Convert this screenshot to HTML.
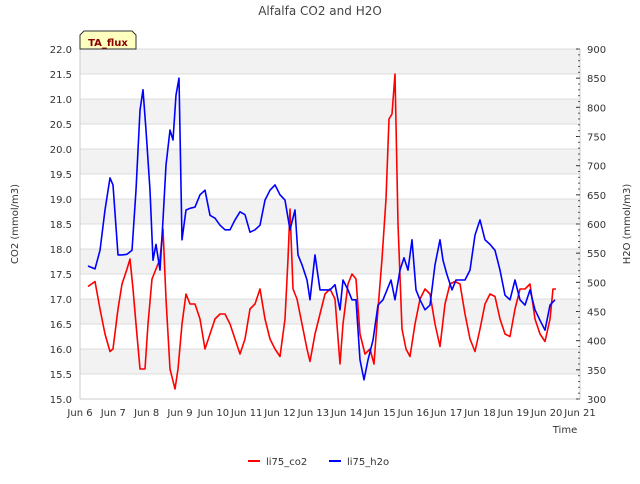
<!DOCTYPE html>
<html><head><meta charset="utf-8"><style>
body{margin:0;background:#fff;font-family:"DejaVu Sans","Liberation Sans",sans-serif}
</style></head><body>
<svg id="c" width="640" height="480" xmlns="http://www.w3.org/2000/svg" font-family="DejaVu Sans, Liberation Sans, sans-serif"></svg>
<script>
const co2T=[6.24,6.45,6.6,6.75,6.9,6.99,7.14,7.26,7.41,7.5,7.59,7.68,7.8,7.95,8.04,8.16,8.28,8.4,8.49,8.58,8.7,8.85,8.94,9.06,9.18,9.3,9.45,9.6,9.75,9.9,10.05,10.2,10.35,10.5,10.65,10.8,10.95,11.1,11.25,11.4,11.55,11.7,11.85,12.0,12.15,12.24,12.3,12.39,12.51,12.66,12.81,12.9,13.05,13.2,13.35,13.5,13.65,13.8,13.89,14.04,14.16,14.28,14.4,14.55,14.7,14.82,14.94,15.06,15.18,15.27,15.36,15.45,15.54,15.66,15.78,15.9,16.05,16.2,16.35,16.5,16.65,16.8,16.95,17.1,17.25,17.4,17.55,17.7,17.85,18.0,18.15,18.3,18.45,18.6,18.75,18.9,19.05,19.2,19.35,19.5,19.65,19.8,19.95,20.1,20.19,20.28];
const co2V=[17.25,17.35,16.8,16.3,15.95,16.0,16.8,17.3,17.6,17.8,17.2,16.5,15.6,15.6,16.5,17.4,17.6,17.8,18.4,17.0,15.6,15.2,15.6,16.5,17.1,16.9,16.9,16.6,16.0,16.3,16.6,16.7,16.7,16.5,16.2,15.9,16.2,16.8,16.9,17.2,16.6,16.2,16.0,15.85,16.6,17.8,18.8,17.2,17.0,16.5,16.0,15.75,16.3,16.7,17.1,17.2,17.0,15.7,16.5,17.3,17.5,17.4,16.3,15.9,16.0,15.7,16.8,17.8,19.0,20.6,20.7,21.5,18.5,16.4,16.0,15.85,16.5,17.0,17.2,17.1,16.5,16.05,16.9,17.3,17.35,17.3,16.7,16.2,15.95,16.4,16.9,17.1,17.05,16.6,16.3,16.25,16.8,17.2,17.2,17.3,16.6,16.3,16.15,16.6,17.2,17.2];
const h2oT=[6.24,6.45,6.6,6.75,6.9,6.99,7.14,7.26,7.41,7.56,7.68,7.8,7.89,7.98,8.1,8.19,8.28,8.4,8.49,8.58,8.7,8.79,8.88,8.97,9.06,9.18,9.3,9.45,9.6,9.75,9.9,10.05,10.2,10.35,10.5,10.65,10.8,10.95,11.1,11.25,11.4,11.55,11.7,11.85,12.0,12.15,12.3,12.45,12.54,12.66,12.81,12.9,13.05,13.2,13.35,13.5,13.65,13.8,13.89,14.04,14.16,14.28,14.4,14.52,14.64,14.79,14.94,15.09,15.21,15.33,15.45,15.6,15.72,15.84,15.96,16.08,16.2,16.35,16.5,16.65,16.8,16.89,17.01,17.16,17.28,17.4,17.55,17.7,17.85,18.0,18.15,18.3,18.45,18.6,18.75,18.9,19.05,19.2,19.35,19.5,19.65,19.8,19.95,20.1,20.25];
const h2oV=[528,523,555,624,679,667,547,547,548,555,658,795,830,761,658,538,565,521,607,701,761,744,821,850,573,624,627,629,650,658,615,610,598,590,590,607,621,616,586,590,598,641,658,667,650,641,590,624,547,530,504,470,547,487,487,487,496,453,504,487,470,470,367,333,367,401,461,470,487,504,470,521,542,521,573,487,470,453,461,530,573,538,513,487,504,504,504,521,581,607,573,565,555,521,478,470,504,470,461,487,453,435,418,461,470];
const co2Ticks=[15,15.5,16,16.5,17,17.5,18,18.5,19,19.5,20,20.5,21,21.5,22];
const h2oTicks=[300,350,400,450,500,550,600,650,700,750,800,850,900];
const dayTicks=[6,7,8,9,10,11,12,13,14,15,16,17,18,19,20,21];

const L=80,R=580,T=49,B=399;
const xS=d=>L+(d-6)*(R-L)/15;
const yL=v=>B-(v-15)*(B-T)/7;
const yR=v=>B-(v-300)*(B-T)/600;
const svg=document.getElementById('c');
const NS='http://www.w3.org/2000/svg';
function mk(tag,attrs,parent){const e=document.createElementNS(NS,tag);for(const k in attrs)e.setAttribute(k,attrs[k]);(parent||svg).appendChild(e);return e;}

const bg=mk('g',{});


for(let i=0;i<co2Ticks.length-1;i++){
  if((co2Ticks.length-2-i)%2===0){
    const r=mk('rect',{x:L,y:yL(co2Ticks[i+1]),width:R-L,height:yL(co2Ticks[i])-yL(co2Ticks[i+1]),fill:'#f2f2f2'},bg);
    
    
  }
}
co2Ticks.forEach(v=>{
  const l=mk('line',{x1:L,x2:R,y1:yL(v),y2:yL(v),stroke:'#dcdcdc','stroke-width':1},bg);
  
  
});

const ax=mk('g',{'font-size':10,fill:'#333'});


mk('line',{x1:L,x2:L,y1:T,y2:B,stroke:'#ccc'},ax);
mk('line',{x1:R,x2:R,y1:T,y2:B,stroke:'#ccc'},ax);
mk('line',{x1:L,x2:R,y1:B,y2:B,stroke:'#ccc'},ax);
co2Ticks.forEach(v=>{
  const t=mk('text',{x:L-8,y:yL(v)+4,'text-anchor':'end'},ax);t.textContent=v.toFixed(1);
  
  
});
h2oTicks.forEach(v=>{
  const t=mk('text',{x:R+7,y:yR(v)+4},ax);t.textContent=v;
  
  
  mk('line',{x1:R,x2:R-4,y1:yR(v),y2:yR(v),stroke:'#333'},ax);
});
for(let v=300;v<=900;v+=10){mk('line',{x1:R,x2:R-2,y1:yR(v),y2:yR(v),stroke:'#555'},ax);}
dayTicks.forEach(d=>{
  const t=mk('text',{x:xS(d),y:B+17,'text-anchor':'middle'},ax);t.textContent='Jun '+d;
  
  
});

function line(T_,V_,ys,color,name){
  const p=mk('path',{d:T_.map((t,i)=>(i?'L':'M')+xS(t).toFixed(1)+','+ys(V_[i]).toFixed(1)).join(''),fill:'none',stroke:color,'stroke-width':1.6,'stroke-linejoin':'round'});
  
  
}
line(co2T,co2V,yL,'#ff0000','co2-line');
line(h2oT,h2oV,yR,'#0000ff','h2o-line');

function txt(x,y,s,attrs,name){const t=mk('text',Object.assign({x:x,y:y},attrs));t.textContent=s;
  
  return t;}
txt(320,15,'Alfalfa CO2 and H2O',{'text-anchor':'middle','font-size':12,fill:'#444'},'chart-title');
txt(565,433,'Time',{'text-anchor':'middle','font-size':10,fill:'#333'},'x-axis-title');
txt(18,224,'CO2 (mmol/m3)',{'text-anchor':'middle','font-size':10,fill:'#333',transform:'rotate(-90 18 224)'},'left-axis-title');
txt(630,224,'H2O (mmol/m3)',{'text-anchor':'middle','font-size':10,fill:'#333',transform:'rotate(-90 630 224)'},'right-axis-title');

const tb=mk('g',{});


mk('path',{d:'M80,49 L80,35 L84,31 L132,31 L136,35 L136,49 Z',fill:'#ffffc0',stroke:'#333'},tb);
const tt=mk('text',{x:108,y:46,'text-anchor':'middle','font-size':10,'font-weight':'bold',fill:'#8b0000'},tb);tt.textContent='TA_flux';

const lg=mk('g',{'font-size':10,fill:'#333'});


const e1=mk('g',{},lg);


mk('line',{x1:248,x2:260,y1:461,y2:461,stroke:'#ff0000','stroke-width':2},e1);
const l1=mk('text',{x:266,y:465},e1);l1.textContent='li75_co2';
const e2=mk('g',{},lg);


mk('line',{x1:329,x2:341,y1:461,y2:461,stroke:'#0000ff','stroke-width':2},e2);
const l2=mk('text',{x:347,y:465},e2);l2.textContent='li75_h2o';
</script>
</body></html>
